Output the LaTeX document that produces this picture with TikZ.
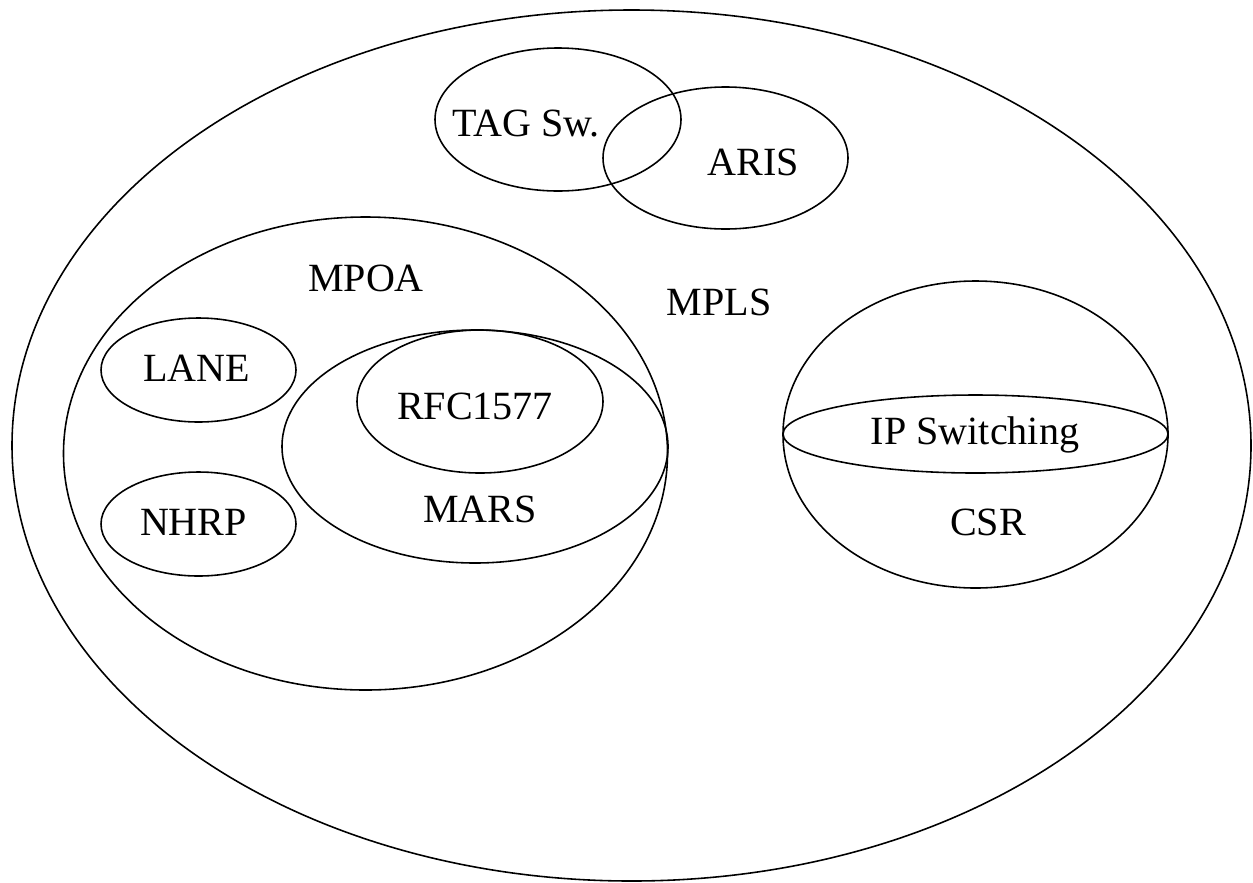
\documentclass[tikz,border=0pt]{standalone}
\usepackage{fontspec}
\setmainfont{Liberation Serif}
\usepackage{tikz}
\tikzset{%
    venn/.style={line width=0.45pt},
    tag/.style={inner sep=0pt, text height=0.27cm, text depth=0pt,
        font=\fontsize{11.4}{13}\selectfont}
}

\begin{document}
\begin{tikzpicture}
\useasboundingbox (0,0) rectangle (12.53,8.82);
\draw[venn] (6.315,4.365) ellipse (6.195cm and 4.355cm);

\draw[venn] (5.58,7.625) ellipse (1.23cm and 0.715cm);
\draw[venn] (7.255,7.24) ellipse (1.225cm and 0.71cm);

\draw[venn] (3.655,4.285) ellipse (3.02cm and 2.365cm);
\draw[venn] (1.985,5.12) ellipse (0.975cm and 0.52cm);
\draw[venn] (1.985,3.58) ellipse (0.975cm and 0.52cm);
\draw[venn] (4.75,4.355) ellipse (1.93cm and 1.165cm);
\draw[venn] (4.80,4.805) ellipse (1.23cm and 0.715cm);

\draw[venn] (9.755,4.475) ellipse (1.925cm and 1.535cm);
\draw[venn] (9.755,4.48) ellipse (1.925cm and 0.39cm);

\node[tag] (tagsw) at (5.26,7.59) {TAG Sw.};
\node[tag] (aris) at (7.53,7.20) {ARIS};
\node[tag] (mpoa) at (3.66,6.04) {MPOA};
\node[tag] (mpls) at (7.19,5.80) {MPLS};
\node[tag] (lane) at (1.965,5.14) {LANE};
\node[tag] (rfc) at (4.75,4.76) {RFC1577};
\node[tag] (ipsw) at (9.75,4.51) {IP Switching};
\node[tag] (nhrp) at (1.935,3.60) {NHRP};
\node[tag] (mars) at (4.80,3.73) {MARS};
\node[tag] (csr) at (9.88,3.60) {CSR};
\end{tikzpicture}
\end{document}
